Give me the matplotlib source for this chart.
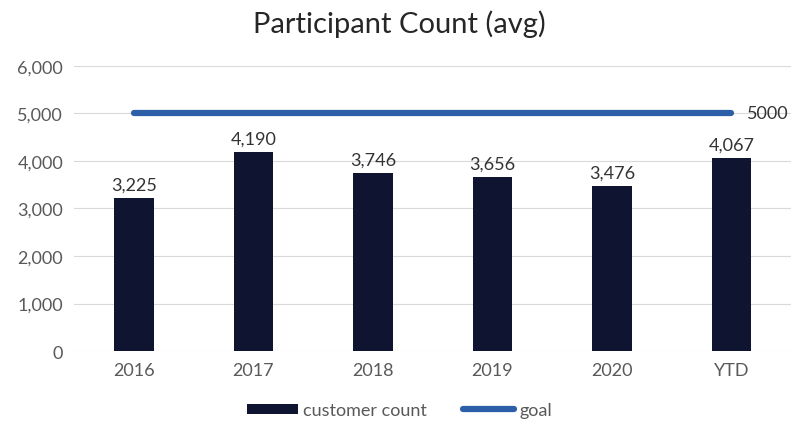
import matplotlib
matplotlib.use("Agg")
from matplotlib import pyplot as plt

plt.rcParams['font.family'] = ['Lato', 'DejaVu Sans']

years = ["2016", "2017", "2018", "2019", "2020", "YTD"]
customer_count = [3225, 4190, 3746, 3656, 3476, 4067]
goal = [5000, 5000, 5000, 5000, 5000, 5000]

fig = plt.figure(figsize=(7.99, 4.31), dpi=100)
ax = fig.add_axes([0.093, 0.183, 0.897, 0.662])

x = list(range(len(years)))
bars = ax.bar(x, customer_count, width=0.33, color="#0f1530", label="customer count", zorder=2)
line, = ax.plot(x, goal, color="#2d5ea8", linewidth=4.5, solid_capstyle="round", label="goal", zorder=3)

for xi, v in zip(x, customer_count):
    ax.text(xi, v + 110, "{:,}".format(v), ha="center", va="bottom", fontsize=13, color="#333333")
ax.text(x[-1] + 0.13, goal[-1], str(goal[-1]), ha="left", va="center", fontsize=13, color="#333333")

ax.set_ylim(0, 6000)
ax.set_xlim(-0.5, 5.5)
ax.set_yticks(range(0, 6001, 1000))
ax.set_yticklabels(["{:,}".format(t) for t in range(0, 6001, 1000)])
ax.set_xticks(x)
ax.set_xticklabels(years)
ax.tick_params(length=0, labelsize=13, colors="#595959", pad=8)
ax.grid(axis="y", color="#d9d9d9", linewidth=0.8, zorder=0)
for s in ax.spines.values():
    s.set_visible(False)

fig.suptitle("Participant Count (avg)", y=0.975, fontsize=21, color="#262626")
fig.legend([bars, line], ["customer count", "goal"], loc="lower center", ncol=2, frameon=False,
           fontsize=13, bbox_to_anchor=(0.5, -0.01), handlelength=2.8, handleheight=0.5,
           handletextpad=0.3, columnspacing=2.0, labelcolor="#595959")

fig.savefig("out.png", dpi=100)
